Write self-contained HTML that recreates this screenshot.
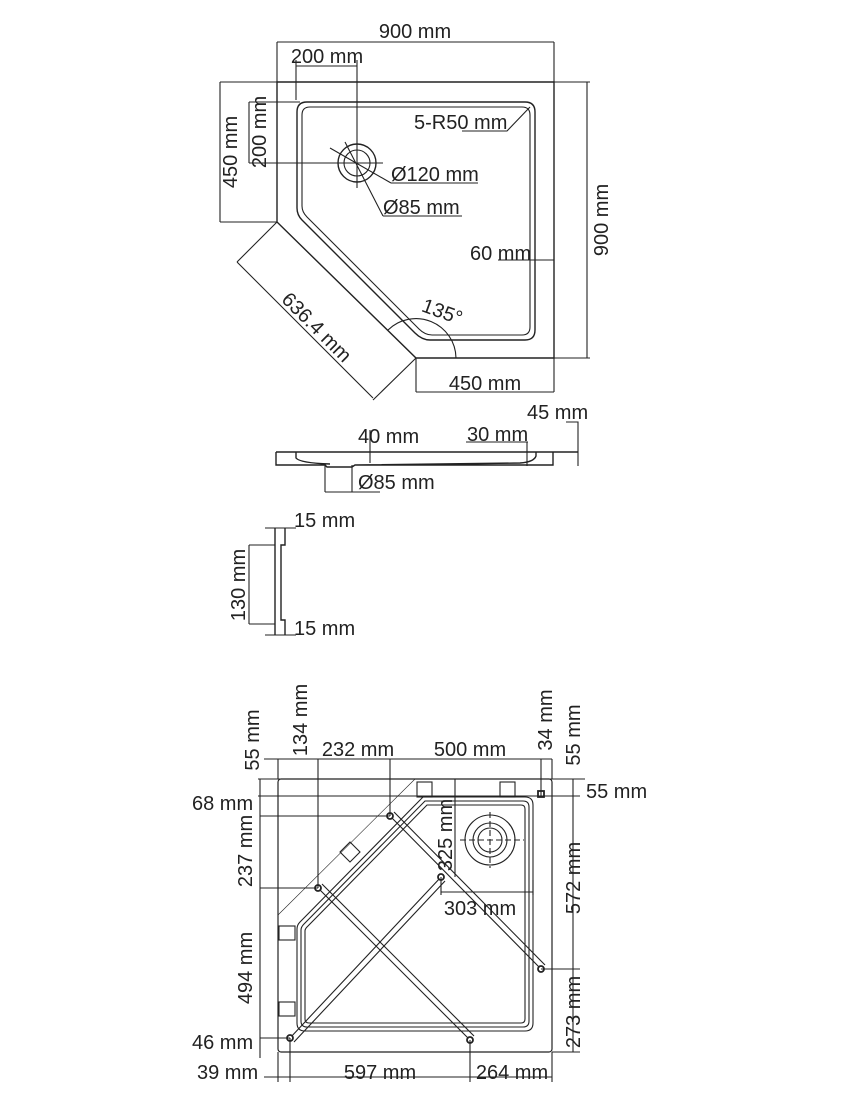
<!DOCTYPE html>
<html><head><meta charset="utf-8"><style>
html,body{margin:0;padding:0;background:#fff}
svg{display:block}
text{font-family:"Liberation Sans",Arial,sans-serif;font-size:20px;fill:#222}
</style></head><body>
<svg width="843" height="1102" viewBox="0 0 843 1102" xmlns="http://www.w3.org/2000/svg">
<g fill="none" stroke="#222" stroke-width="1.1">
<!-- TOP VIEW -->
<path d="M277 82 H554 V358 H416 L277 222 Z" stroke-width="1.4"/>
<path d="M307 102 H525 Q535 102 535 112 V330 Q535 340 525 340 H430 Q422 340 415 333 L302 220 Q297 215 297 208 V112 Q297 102 307 102 Z" stroke-width="1.4"/>
<path d="M310 107 H522 Q530 107 530 115 V327 Q530 335 522 335 H432 Q425 335 419 329 L307 217 Q302 212 302 206 V115 Q302 107 310 107 Z"/>
<circle cx="357" cy="163" r="19" stroke-width="1.4"/>
<circle cx="357" cy="163" r="13"/>
<path d="M277 42 H554 M277 42 V82 M554 42 V82"/>
<path d="M296 66 H357 M296 60 V100 M357 60 V188"/>
<path d="M220 82 V222 M220 82 H277 M220 222 H277"/>
<path d="M249 102 V163 M249 102 H300 M249 163 H383"/>
<path d="M587 82 V358 M554 82 H590 M554 358 H590"/>
<path d="M462 131 H507 L530 107"/>
<path d="M391 183 H478 M391 183 L330 148"/>
<path d="M383 216 H462 M383 216 L345 142"/>
<path d="M498 260 H554"/>
<path d="M237 262 L373 398 M277 222 L237 262 M416 358 L373 400"/>
<path d="M388 330 A40 40 0 0 1 456 358"/>
<path d="M416 358 V392 M554 358 V392 M416 392 H554"/>
<!-- SIDE VIEW -->
<path d="M276 452 H578 M276 452 V465 H325 L327 467 H352 L355 465 H553 V452 M296 452 V458 Q300 463 330 464 M536 452 V456 Q534 462 520 463 L355 465" stroke-width="1.4"/>
<path d="M370 430 V463 M527 442 V466 M466 442 H528 M566 422 H578 V466"/>
<path d="M325 465 V492 M352 465 V492 M325 492 H380"/>
<!-- SECTION -->
<path d="M275 528 V635 M285 528 V545 L281 545 L281 620 L285 620 V635" stroke-width="1.4"/>
<path d="M265 528 H296 M265 635 H296 M249 545 V624 M249 545 H275 M249 624 H275"/>
<!-- BOTTOM VIEW -->
<rect x="278" y="779" width="274" height="273" rx="3" stroke-width="1.2"/>
<path d="M423 797 H525 Q533 797 533 805 V1023 Q533 1031 525 1031 H305 Q297 1031 297 1023 V929 Q297 925 300 922 Z"/>
<path d="M425 801 H523 Q529 801 529 807 V1021 Q529 1027 523 1027 H307 Q301 1027 301 1021 V930 Q301 927 304 924 Z"/>
<path d="M427 805 H521 Q525 805 525 809 V1019 Q525 1023 521 1023 H309 Q305 1023 305 1019 V931 Q305 929 307 927 Z"/>
<path d="M278 915 L415 779" stroke-width="0.6"/>
<circle cx="490" cy="840" r="25"/><circle cx="490" cy="840" r="17"/><circle cx="490" cy="840" r="12"/>
<path d="M460 840 H524 M490 812 V868" stroke-dasharray="6 3"/>
<rect x="417" y="782" width="15" height="15"/><rect x="500" y="782" width="15" height="15"/>
<rect x="279" y="926" width="16" height="14"/><rect x="279" y="1002" width="16" height="14"/>
<path d="M340 852 L350 842 L360 852 L350 862 Z"/>
<path d="M390 816 L541 969 M394 812 L545 965"/>
<path d="M318 888 L470 1040 M322 884 L474 1036"/>
<path d="M441 877 L290 1038 M445 881 L294 1042"/>
<g stroke-width="1.8" fill="#fff">
<circle cx="390" cy="816" r="3"/><circle cx="318" cy="888" r="3"/><circle cx="441" cy="877" r="3"/>
<circle cx="541" cy="969" r="3"/><circle cx="290" cy="1038" r="3"/><circle cx="470" cy="1040" r="3"/>
<rect x="538" y="791" width="6" height="6"/>
</g>
<path d="M264 759 H552 M278 759 V779 M318 759 V888 M390 759 V816 M541 759 V797 M552 759 V779"/>
<path d="M258 779 H585 M258 796 H580 M260 816 H390 M260 888 H318 M260 1038 H290 M260 779 V1058"/>
<path d="M573 779 V1052 M541 969 H580 M552 1052 H580"/>
<path d="M455 779 V877 M441 892 H533 M533 880 V895 M441 877 V895"/>
<path d="M264 1077 H552 M290 1038 V1082 M470 1040 V1082 M552 1052 V1082 M278 1052 V1082"/>
</g>
<text x="415" y="38" text-anchor="middle">900 mm</text>
<text x="327" y="63" text-anchor="middle">200 mm</text>
<text transform="translate(237 152) rotate(-90)" text-anchor="middle">450 mm</text>
<text transform="translate(266 132) rotate(-90)" text-anchor="middle">200 mm</text>
<text x="414" y="129">5-R50 mm</text>
<text x="391" y="181">Ø120 mm</text>
<text x="383" y="214">Ø85 mm</text>
<text x="470" y="260">60 mm</text>
<text transform="translate(608 220) rotate(-90)" text-anchor="middle">900 mm</text>
<text transform="translate(312 332) rotate(45)" text-anchor="middle">636.4 mm</text>
<text transform="translate(440 318) rotate(20)" text-anchor="middle">135°</text>
<text x="485" y="390" text-anchor="middle">450 mm</text>
<text x="527" y="419">45 mm</text>
<text x="358" y="443">40 mm</text>
<text x="467" y="441">30 mm</text>
<text x="358" y="489">Ø85 mm</text>
<text x="294" y="527">15 mm</text>
<text transform="translate(245 585) rotate(-90)" text-anchor="middle">130 mm</text>
<text x="294" y="635">15 mm</text>
<text transform="translate(259 740) rotate(-90)" text-anchor="middle">55 mm</text>
<text transform="translate(307 720) rotate(-90)" text-anchor="middle">134 mm</text>
<text x="358" y="756" text-anchor="middle">232 mm</text>
<text x="470" y="756" text-anchor="middle">500 mm</text>
<text transform="translate(552 720) rotate(-90)" text-anchor="middle">34 mm</text>
<text transform="translate(580 735) rotate(-90)" text-anchor="middle">55 mm</text>
<text x="586" y="798">55 mm</text>
<text x="192" y="810">68 mm</text>
<text transform="translate(252 851) rotate(-90)" text-anchor="middle">237 mm</text>
<text transform="translate(452 835) rotate(-90)" text-anchor="middle">325 mm</text>
<text x="480" y="915" text-anchor="middle">303 mm</text>
<text transform="translate(580 878) rotate(-90)" text-anchor="middle">572 mm</text>
<text transform="translate(252 968) rotate(-90)" text-anchor="middle">494 mm</text>
<text transform="translate(580 1012) rotate(-90)" text-anchor="middle">273 mm</text>
<text x="192" y="1049">46 mm</text>
<text x="197" y="1079">39 mm</text>
<text x="380" y="1079" text-anchor="middle">597 mm</text>
<text x="512" y="1079" text-anchor="middle">264 mm</text>
</svg>
</body></html>
